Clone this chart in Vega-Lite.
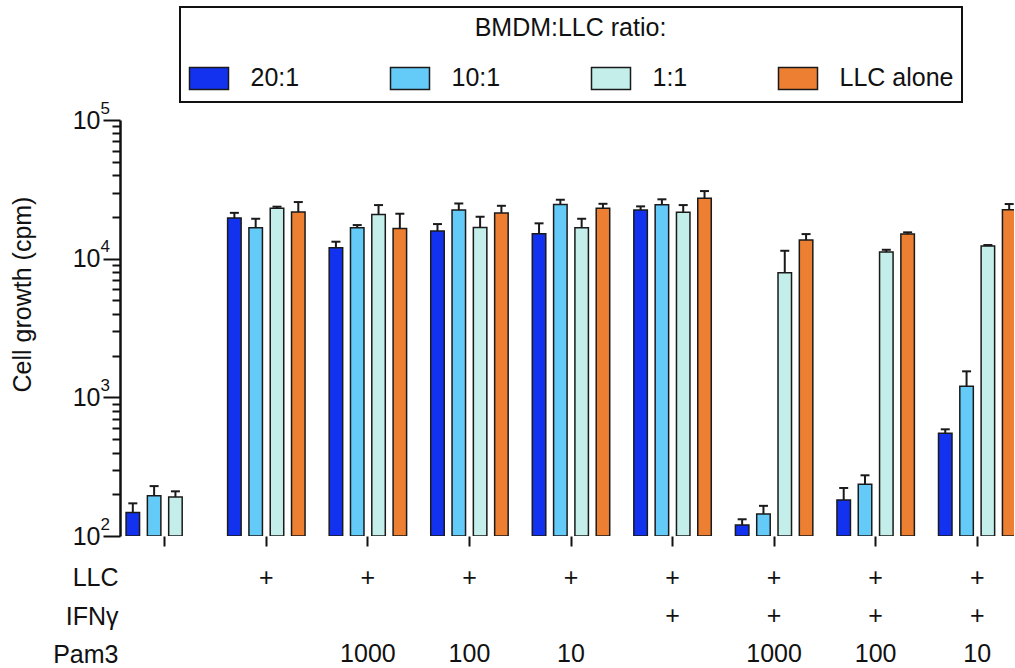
{
  "$schema": "https://vega.github.io/schema/vega-lite/v6.json",
  "background": "white",
  "padding": {"left": 10, "top": 6, "right": 0, "bottom": 0},
  "spacing": 16,
  "config": {
    "font": "Liberation Sans",
    "view": {"stroke": null},
    "axis": {"grid": false, "domainColor": "#111111", "tickColor": "#111111", "labelColor": "#111111", "titleColor": "#111111", "labelFont": "Liberation Sans", "titleFont": "Liberation Sans"},
    "legend": {"strokeWidth": 2}
  },
  "vconcat": [
    {
      "width": 894,
      "height": 416,
      "data": {"values": [
        {"group": "1", "ratio": "20:1", "value": 148, "upper": 172},
        {"group": "1", "ratio": "10:1", "value": 195, "upper": 229},
        {"group": "1", "ratio": "1:1", "value": 191, "upper": 210},
        {"group": "2", "ratio": "20:1", "value": 19630, "upper": 21400},
        {"group": "2", "ratio": "10:1", "value": 16700, "upper": 19400},
        {"group": "2", "ratio": "1:1", "value": 23060, "upper": 23700},
        {"group": "2", "ratio": "LLC alone", "value": 21700, "upper": 25600},
        {"group": "3", "ratio": "20:1", "value": 11990, "upper": 13250},
        {"group": "3", "ratio": "10:1", "value": 16700, "upper": 17470},
        {"group": "3", "ratio": "1:1", "value": 20860, "upper": 24350},
        {"group": "3", "ratio": "LLC alone", "value": 16530, "upper": 21090},
        {"group": "4", "ratio": "20:1", "value": 15810, "upper": 17760},
        {"group": "4", "ratio": "10:1", "value": 22400, "upper": 25000},
        {"group": "4", "ratio": "1:1", "value": 16800, "upper": 20060},
        {"group": "4", "ratio": "LLC alone", "value": 21330, "upper": 24060},
        {"group": "5", "ratio": "20:1", "value": 15130, "upper": 17980},
        {"group": "5", "ratio": "10:1", "value": 24620, "upper": 26600},
        {"group": "5", "ratio": "1:1", "value": 16700, "upper": 19400},
        {"group": "5", "ratio": "LLC alone", "value": 23060, "upper": 24870},
        {"group": "6", "ratio": "20:1", "value": 22400, "upper": 23830},
        {"group": "6", "ratio": "10:1", "value": 24480, "upper": 26790},
        {"group": "6", "ratio": "1:1", "value": 21580, "upper": 24350},
        {"group": "6", "ratio": "LLC alone", "value": 27230, "upper": 30720},
        {"group": "7", "ratio": "20:1", "value": 120, "upper": 132},
        {"group": "7", "ratio": "10:1", "value": 144, "upper": 165},
        {"group": "7", "ratio": "1:1", "value": 7910, "upper": 11400},
        {"group": "7", "ratio": "LLC alone", "value": 13620, "upper": 15040},
        {"group": "8", "ratio": "20:1", "value": 182, "upper": 222},
        {"group": "8", "ratio": "10:1", "value": 236, "upper": 274},
        {"group": "8", "ratio": "1:1", "value": 11160, "upper": 11590},
        {"group": "8", "ratio": "LLC alone", "value": 15040, "upper": 15480},
        {"group": "9", "ratio": "20:1", "value": 550, "upper": 588},
        {"group": "9", "ratio": "10:1", "value": 1200, "upper": 1540},
        {"group": "9", "ratio": "1:1", "value": 12330, "upper": 12540},
        {"group": "9", "ratio": "LLC alone", "value": 22530, "upper": 24770}
      ]},
      "encoding": {
        "x": {
          "field": "group", "type": "nominal",
          "scale": {"domain": ["1", "2", "3", "4", "5", "6", "7", "8", "9"], "range": [-6, 908], "paddingInner": 0, "paddingOuter": 0},
          "axis": {"labels": false, "title": null, "domain": false, "tickSize": 10, "tickWidth": 2}
        },
        "xOffset": {
          "field": "ratio", "type": "nominal",
          "scale": {"domain": ["20:1", "10:1", "1:1", "LLC alone"], "paddingInner": 0.366, "paddingOuter": 0.566}
        }
      },
      "resolve": {"axis": {"y": "independent"}},
      "layer": [
        {
          "mark": {"type": "rule", "strokeWidth": 2.5, "color": "#111111"},
          "encoding": {
            "y": {
              "datum": 100, "type": "quantitative",
              "axis": {
                "orient": "left", "title": null, "domain": false, "ticks": false,
                "values": [100, 1000, 10000, 100000],
                "labelExpr": "datum.value == 100 ? '2' : datum.value == 1000 ? '3' : datum.value == 10000 ? '4' : '5'",
                "labelFontSize": 17, "labelAlign": "left", "labelBaseline": "alphabetic", "labelOffset": -7,
                "labelPadding": 20, "labelFlush": false, "labelOverlap": false, "labelBound": false
              }
            }
          }
        },
        {
          "mark": {"type": "bar", "stroke": "#1a1a1a", "strokeWidth": 1.5, "clip": true},
          "encoding": {
            "y": {
              "field": "value", "type": "quantitative",
              "scale": {"type": "log", "domain": [100, 100000]},
              "axis": {
                "orient": "left",
                "title": "Cell growth (cpm)",
                "titleFontSize": 25, "titleFontWeight": "normal",
                "titleX": -85, "titleY": 174,
                "values": [100, 200, 300, 400, 500, 600, 700, 800, 900, 1000, 2000, 3000, 4000, 5000, 6000, 7000, 8000, 9000, 10000, 20000, 30000, 40000, 50000, 60000, 70000, 80000, 90000, 100000],
                "labelExpr": "(datum.value == 100 || datum.value == 1000 || datum.value == 10000 || datum.value == 100000) ? '10' : ''",
                "labelFontSize": 25, "labelPadding": 3, "labelFlush": false, "labelOverlap": false, "labelBound": false,
                "tickSize": {"condition": {"test": "datum.value == 100 || datum.value == 1000 || datum.value == 10000 || datum.value == 100000", "value": 17}, "value": 8},
                "tickWidth": 2, "domainWidth": 2.5
              }
            },
            "y2": {"datum": 100},
            "color": {
              "field": "ratio", "type": "nominal",
              "scale": {"domain": ["20:1", "10:1", "1:1", "LLC alone"], "range": ["#1232F0", "#64CAF8", "#C3EEEA", "#EC7F31"]},
              "legend": {
                "title": "BMDM:LLC ratio:",
                "orient": "none", "legendX": 60, "legendY": -113,
                "direction": "horizontal",
                "symbolType": "M-1,-0.367H0.3V0.367H-1Z",
                "symbolSize": 3600,
                "symbolStrokeColor": "#1a1a1a", "symbolStrokeWidth": 1.5, "symbolOpacity": 1,
                "labelFontSize": 25, "labelOffset": 0, "labelColor": "#111111", "labelFont": "Liberation Sans",
                "titleFontSize": 25, "titleFontWeight": "normal", "titleAnchor": "middle", "titleColor": "#111111", "titleFont": "Liberation Sans", "titlePadding": 6.5, "titleLimit": 1000,
                "columnPadding": 88, "padding": 8.5,
                "strokeColor": "#111111", "fillColor": "white"
              }
            }
          }
        },
        {
          "mark": {"type": "rule", "strokeWidth": 2, "color": "#1a1a1a"},
          "encoding": {
            "y": {"field": "value", "type": "quantitative", "axis": null},
            "y2": {"field": "upper"}
          }
        },
        {
          "mark": {"type": "tick", "thickness": 2, "size": 9, "color": "#1a1a1a", "opacity": 1},
          "encoding": {"y": {"field": "upper", "type": "quantitative", "axis": null}}
        }
      ]
    },
    {
      "width": 894,
      "height": 78,
      "data": {"values": [
        {"group": "2", "row": "LLC", "label": "+"},
        {"group": "3", "row": "LLC", "label": "+"},
        {"group": "4", "row": "LLC", "label": "+"},
        {"group": "5", "row": "LLC", "label": "+"},
        {"group": "6", "row": "LLC", "label": "+"},
        {"group": "7", "row": "LLC", "label": "+"},
        {"group": "8", "row": "LLC", "label": "+"},
        {"group": "9", "row": "LLC", "label": "+"},
        {"group": "6", "row": "IFNγ", "label": "+"},
        {"group": "7", "row": "IFNγ", "label": "+"},
        {"group": "8", "row": "IFNγ", "label": "+"},
        {"group": "9", "row": "IFNγ", "label": "+"},
        {"group": "3", "row": "Pam3", "label": "1000"},
        {"group": "4", "row": "Pam3", "label": "100"},
        {"group": "5", "row": "Pam3", "label": "10"},
        {"group": "7", "row": "Pam3", "label": "1000"},
        {"group": "8", "row": "Pam3", "label": "100"},
        {"group": "9", "row": "Pam3", "label": "10"}
      ]},
      "mark": {"type": "text", "fontSize": 25, "color": "#111111", "font": "Liberation Sans", "baseline": "middle"},
      "encoding": {
        "x": {
          "field": "group", "type": "nominal",
          "scale": {"domain": ["1", "2", "3", "4", "5", "6", "7", "8", "9"], "range": [-6, 908], "paddingInner": 0, "paddingOuter": 0},
          "axis": null
        },
        "y": {
          "field": "row", "type": "nominal",
          "scale": {"type": "point", "domain": ["LLC", "IFNγ", "Pam3"], "padding": 0.026},
          "axis": {"title": null, "domain": false, "ticks": false, "labelFontSize": 25, "labelPadding": 2, "labelColor": "#111111"}
        },
        "text": {"field": "label"}
      }
    }
  ]
}
